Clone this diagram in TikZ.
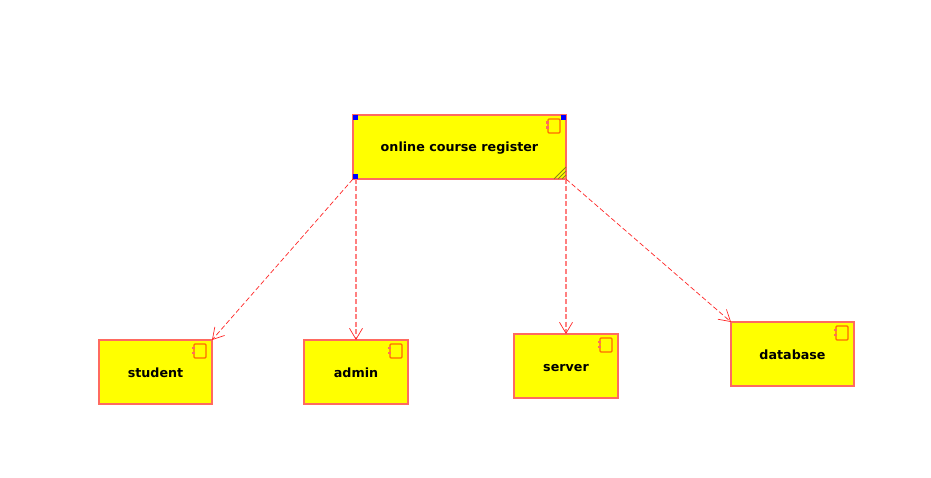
\documentclass[tikz,border=0pt]{standalone}
\usepackage{fontspec}
\setmainfont{DejaVu Sans}
\usetikzlibrary{arrows.meta}
\definecolor{umlline}{HTML}{FF6A60}
\definecolor{umldash}{HTML}{FF8080}
\definecolor{umlicon}{HTML}{FF6A00}
\definecolor{umlfill}{HTML}{FFFF00}
\definecolor{umlhatch}{HTML}{8A8A10}
\tikzset{
  comp/.style={draw=umlline, fill=umlfill, line width=1.1pt, inner sep=0pt, outer sep=0pt, text height=12.4pt, text depth=2.4pt, font=\fontsize{12.7}{15}\selectfont\bfseries},
  dep/.style={draw=red!85!white, dashed, dash pattern=on 5pt off 2.5pt, line width=0.7pt, -{Straight Barb[length=11pt,width=13pt,line width=0.7pt]}},
  depv/.style={dep, draw=umldash, line width=1.5pt, -{Straight Barb[length=11pt,width=13pt,line width=0.7pt,color=red!85!white]}},
  handle/.style={fill=blue, inner sep=0pt, outer sep=0pt, minimum size=5pt},
  compicon/.pic={
    \draw[umlicon, line width=1.2pt, rounded corners=1pt] (-18,4) rectangle (-6,18);
    \fill[umlline] (-20.5,6.5) rectangle (-17,9);
    \fill[umlline] (-20.5,11.5) rectangle (-17,14);
  }
}

\begin{document}
\begin{tikzpicture}[x=1pt, y=-1pt]
\useasboundingbox (0,0) rectangle (931,478);

\node[comp, minimum width=213pt, minimum height=64pt] (main) at (459.5,147) {online course register};
\node[comp, minimum width=113pt, minimum height=64pt] (student) at (155.5,372) {student};
\node[comp, minimum width=104pt, minimum height=64pt] (admin) at (356,372) {admin};
\node[comp, minimum width=104pt, minimum height=64pt] (server) at (566,366) {server};
\node[comp, minimum width=123pt, minimum height=64pt] (database) at (792.5,354) {database};

\pic at (main.north east) {compicon};
\pic at (student.north east) {compicon};
\pic at (admin.north east) {compicon};
\pic at (server.north east) {compicon};
\pic at (database.north east) {compicon};

% selection marks on the main box
\node[handle, anchor=north west] (hnw) at (main.north west) {};
\node[handle, anchor=north east] (hne) at (main.north east) {};
\node[handle, anchor=south west] (hsw) at (main.south west) {};
\foreach \d in {4,8,12}
  \draw[umlhatch, line width=0.9pt] ([xshift=-\d pt]main.south east) -- ([yshift=\d pt]main.south east);

\draw[dep] (main.south west) -- (student.north east);
\draw[depv] (main.south west -| admin.north) -- (admin.north);
\draw[depv] (main.south east -| server.north) -- (server.north);
\draw[dep] (main.south east) -- (database.north west);

\end{tikzpicture}
\end{document}
